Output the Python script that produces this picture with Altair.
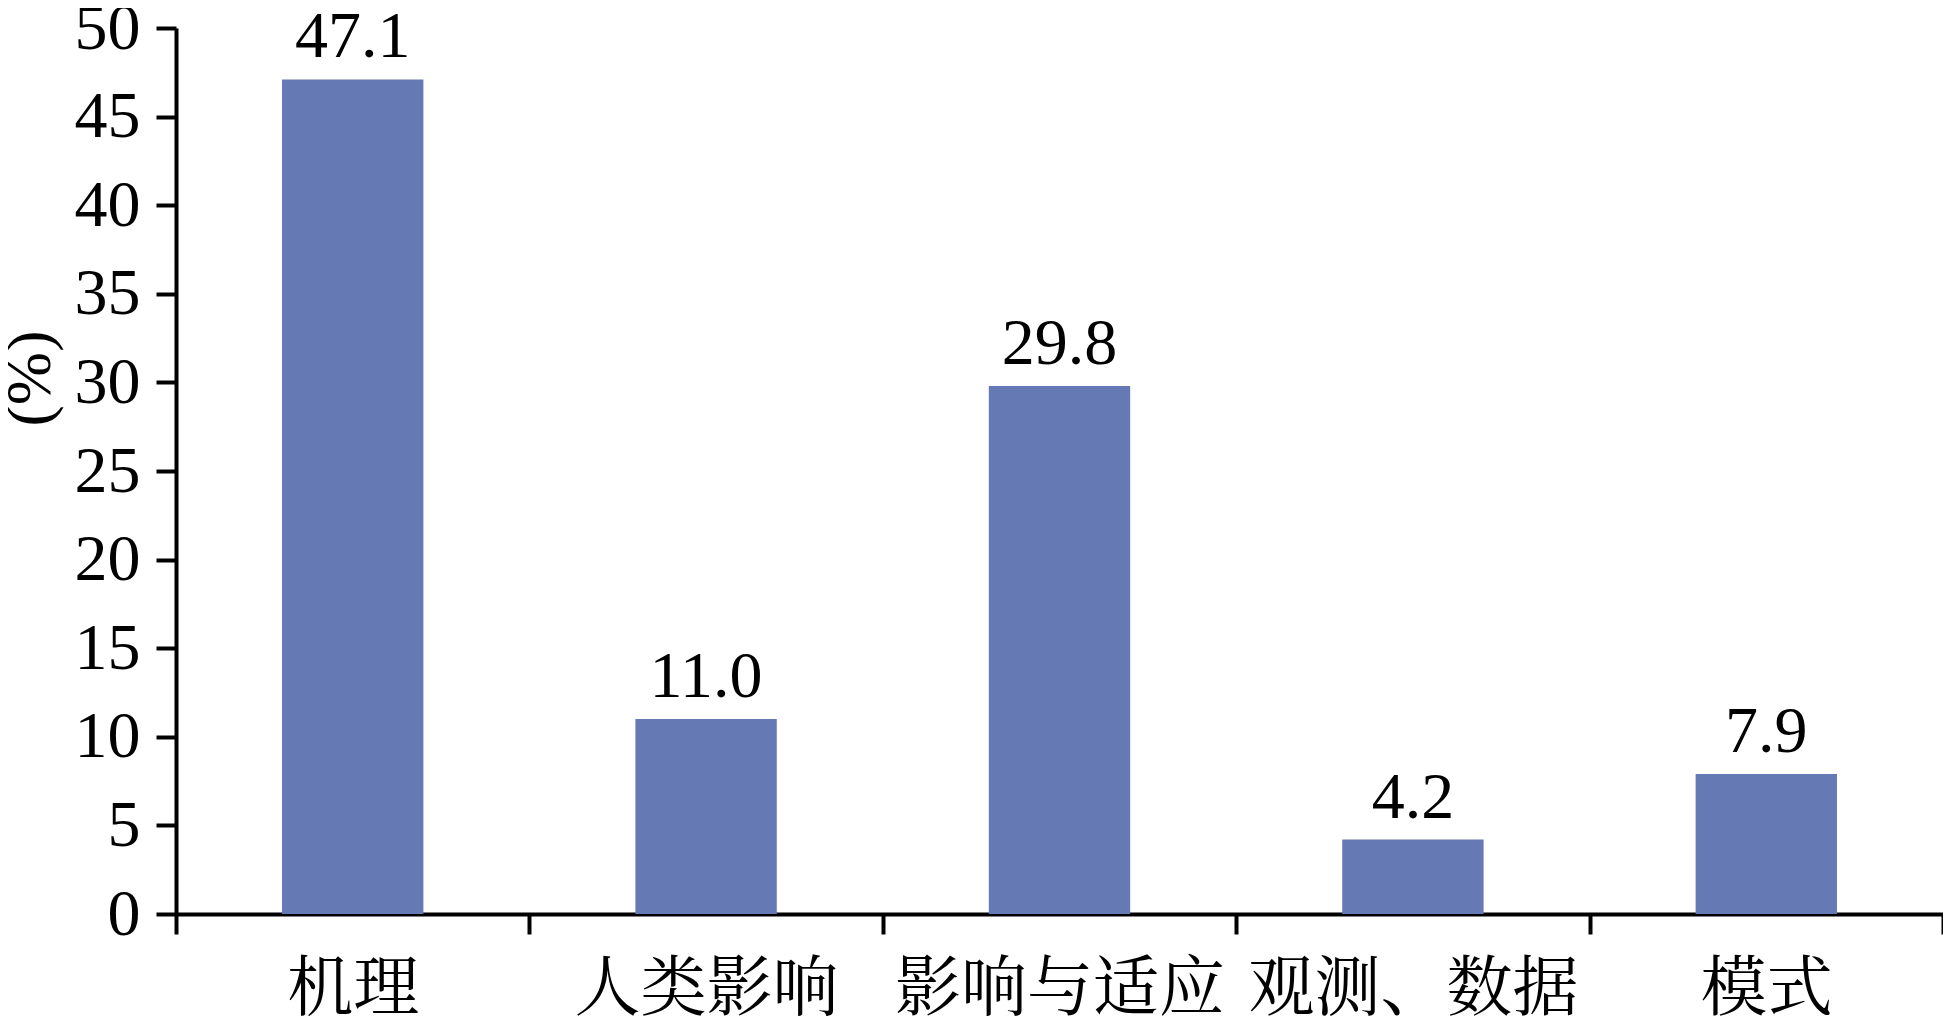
import altair as alt
import pandas as pd

categories = ["机理", "人类影响", "影响与适应", "观测、数据", "模式"]
values = [47.1, 11.0, 29.8, 4.2, 7.9]
y_ticks = [0, 5, 10, 15, 20, 25, 30, 35, 40, 45, 50]

df = pd.DataFrame({"cat": categories, "val": values})

NUM_FONT = "Liberation Serif"
CJK_FONT = "'Liberation Serif', 'Noto Serif CJK SC', 'Noto Sans CJK SC'"
BAR = "#6579B4"

x = alt.X(
    "cat:N",
    sort=categories,
    scale=alt.Scale(paddingInner=0, paddingOuter=0),
    axis=alt.Axis(
        title=None,
        labelAngle=0,
        labelFont=CJK_FONT,
        labelFontSize=66,
        labelColor="black",
        labelBaseline="alphabetic",
        labelPadding=75,
        labelLimit=0,
        labelOverlap=False,
        tickBand="extent",
        tickSize=20,
        tickWidth=4,
        tickColor="black",
        domainColor="black",
        domainWidth=4,
        grid=False,
    ),
)

y = alt.Y(
    "val:Q",
    scale=alt.Scale(domain=[0, 50], nice=False, zero=True),
    axis=alt.Axis(
        title="(%)",
        values=y_ticks,
        labelFont=NUM_FONT,
        labelFontSize=66,
        labelColor="black",
        labelPadding=16,
        tickSize=20,
        tickWidth=4,
        tickColor="black",
        domainColor="black",
        domainWidth=4,
        grid=False,
        titleFont=NUM_FONT,
        titleFontSize=64,
        titleFontWeight="normal",
        titleColor="black",
        titleX=-146,
        titleY=350,
        titleAlign="center",
        titleBaseline="middle",
        titleAngle=270,
    ),
)

bars = alt.Chart(df).mark_bar(color=BAR, width=alt.RelativeBandSize(0.4)).encode(x=x, y=y)

labels = alt.Chart(df).mark_text(
    font=NUM_FONT, fontSize=66, color="black", baseline="alphabetic", dy=-22
).encode(
    x=alt.X("cat:N", sort=categories),
    y=alt.Y("val:Q"),
    text=alt.Text("val:Q", format=".1f"),
)

chart = (
    alt.layer(bars, labels)
    .properties(
        width=1767,
        height=886,
        autosize=alt.AutoSizeParams(type="none"),
        padding={"left": 168, "top": 20, "right": 0, "bottom": 104},
        background="white",
    )
    .configure_view(stroke=None)
)

chart.save("out.html", embed_options={"renderer": "svg", "actions": False})
